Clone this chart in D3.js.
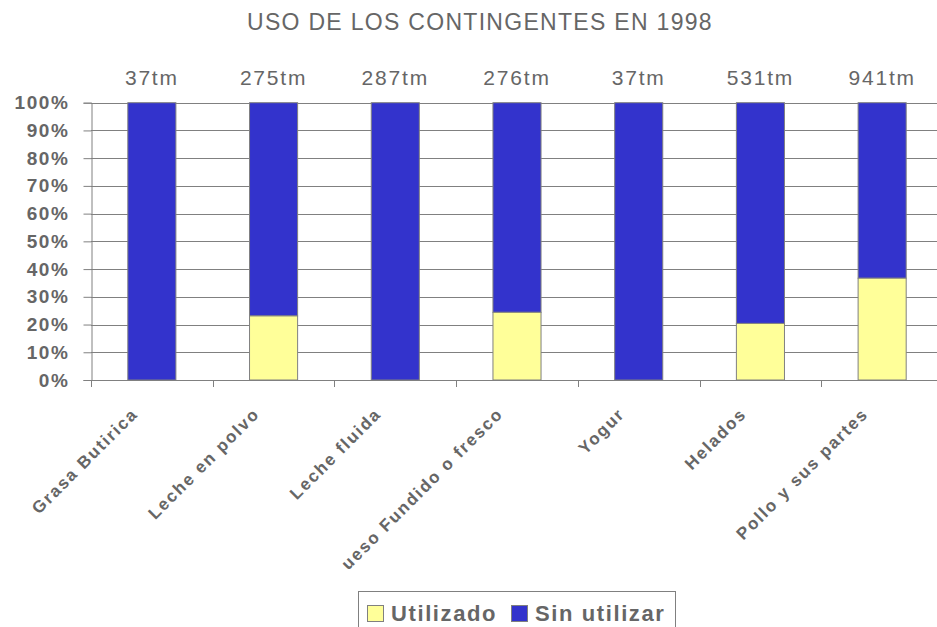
<!DOCTYPE html>
<html>
<head>
<meta charset="utf-8">
<script src="https://cdn.jsdelivr.net/npm/d3@7"></script>
<style>
  html, body { margin: 0; padding: 0; background: #fff; }
  svg { display: block; }
</style>
</head>
<body>
<div id="chart"></div>
<script>
// Données
const categories = ['Grasa Butirica', 'Leche en polvo', 'Leche fluida', 'ueso Fundido o fresco', 'Yogur', 'Helados', 'Pollo y sus partes'];
const totals     = ['37tm', '275tm', '287tm', '276tm', '37tm', '531tm', '941tm'];
const utilizado  = [0, 23.1, 0, 24.4, 0, 20.4, 36.7];
const sinUtilizar = utilizado.map(v => 100 - v);
const yTicks     = [0, 10, 20, 30, 40, 50, 60, 70, 80, 90, 100];
const seriesNames = ['Utilizado', 'Sin utilizar'];

const CONFIG = {
  width: 937, height: 627,
  plot: { left: 91, top: 102.7, bottom: 380, right: 943 },
  yellow: '#ffff99',
  blue: '#3333cc',
  stroke: '#808080',
  text: '#666666',
  font: 'Arial, "Liberation Sans", Helvetica, sans-serif',
};

const { width: W, height: H, plot: p } = CONFIG;

const svg = d3.select('#chart').append('svg')
  .attr('width', W).attr('height', H)
  .style('font-family', CONFIG.font);

const x = d3.scaleBand().domain(categories).range([p.left, p.right]).padding(0);
const y = d3.scaleLinear().domain([0, 100]).range([p.bottom, p.top]);
const barW = x.bandwidth() * 0.395;

// Titre
svg.append('text')
  .attr('x', 480).attr('y', 30)
  .attr('text-anchor', 'middle')
  .style('font-size', '23px')
  .style('letter-spacing', '1.3px')
  .style('fill', CONFIG.text)
  .text('USO DE LOS CONTINGENTES EN 1998');

// Grille horizontale
svg.append('g')
  .selectAll('line').data(yTicks).join('line')
  .attr('x1', p.left).attr('x2', p.right)
  .attr('y1', d => Math.round(y(d)) + 0.5).attr('y2', d => Math.round(y(d)) + 0.5)
  .attr('stroke', CONFIG.stroke).attr('stroke-width', 1);

// Axe Y
svg.append('g')
  .attr('transform', `translate(${p.left + 0.5},0)`)
  .call(d3.axisLeft(y).tickValues(yTicks).tickSize(8).tickPadding(14).tickFormat(d => d + '%'))
  .call(g => g.select('.domain').attr('stroke', CONFIG.stroke))
  .call(g => g.selectAll('line').attr('stroke', CONFIG.stroke))
  .call(g => g.selectAll('text')
    .style('fill', CONFIG.text)
    .style('font-size', '19px')
    .style('font-weight', 'bold')
    .style('letter-spacing', '1.6px')
    .style('font-family', CONFIG.font));

// Axe X (graduations entre catégories)
const bounds = d3.range(categories.length + 1).map(i => p.left + i * x.bandwidth());
svg.append('g')
  .selectAll('line').data(bounds).join('line')
  .attr('x1', d => Math.round(d) + 0.5).attr('x2', d => Math.round(d) + 0.5)
  .attr('y1', p.bottom).attr('y2', p.bottom + 7)
  .attr('stroke', CONFIG.stroke);

// Barres empilées
const stacked = categories.map((c, i) => ({ cat: c, u: utilizado[i], s: sinUtilizar[i] }));
const bars = svg.append('g');
bars.selectAll('rect.s').data(stacked).join('rect')
  .attr('class', 's')
  .attr('x', d => x(d.cat) + (x.bandwidth() - barW) / 2)
  .attr('width', barW)
  .attr('y', d => y(d.u + d.s))
  .attr('height', d => y(d.u) - y(d.u + d.s))
  .attr('fill', CONFIG.blue).attr('stroke', CONFIG.stroke).attr('stroke-width', 1);
bars.selectAll('rect.u').data(stacked.filter(d => d.u > 0)).join('rect')
  .attr('class', 'u')
  .attr('x', d => x(d.cat) + (x.bandwidth() - barW) / 2)
  .attr('width', barW)
  .attr('y', d => y(d.u))
  .attr('height', d => y(0) - y(d.u))
  .attr('fill', CONFIG.yellow).attr('stroke', CONFIG.stroke).attr('stroke-width', 1);

// Ligne du bas
svg.append('line')
  .attr('x1', p.left).attr('x2', p.right)
  .attr('y1', p.bottom + 0.5).attr('y2', p.bottom + 0.5)
  .attr('stroke', CONFIG.stroke);

// Totaux au-dessus des barres
svg.append('g')
  .selectAll('text').data(categories).join('text')
  .attr('x', d => x(d) + x.bandwidth() / 2)
  .attr('y', 85)
  .attr('text-anchor', 'middle')
  .style('font-size', '21px')
  .style('letter-spacing', '1.8px')
  .style('fill', CONFIG.text)
  .text((d, i) => totals[i]);

// Étiquettes des catégories (rotation -45°)
svg.append('g')
  .selectAll('text').data(categories).join('text')
  .attr('transform', d => `translate(${x(d) + x.bandwidth() / 2 - 13},${p.bottom + 35}) rotate(-45)`)
  .attr('text-anchor', 'end')
  .style('font-size', '17px')
  .style('font-weight', 'bold')
  .style('letter-spacing', '1.8px')
  .style('fill', CONFIG.text)
  .text(d => d);

// Légende
const legend = svg.append('g');
legend.append('rect')
  .attr('x', 358.5).attr('y', 591.5).attr('width', 317).attr('height', 50)
  .attr('fill', '#fff').attr('stroke', CONFIG.stroke);
const legendItems = [
  { name: seriesNames[0], color: CONFIG.yellow, sx: 367.5, tx: 391 },
  { name: seriesNames[1], color: CONFIG.blue, sx: 511.5, tx: 535 },
];
legendItems.forEach(it => {
  legend.append('rect')
    .attr('x', it.sx).attr('y', 605.5).attr('width', 16).attr('height', 16)
    .attr('fill', it.color).attr('stroke', CONFIG.stroke);
  legend.append('text')
    .attr('x', it.tx).attr('y', 621)
    .style('font-size', '22px')
    .style('font-weight', 'bold')
    .style('letter-spacing', '1.6px')
    .style('fill', CONFIG.text)
    .text(it.name);
});
</script>
</body>
</html>
